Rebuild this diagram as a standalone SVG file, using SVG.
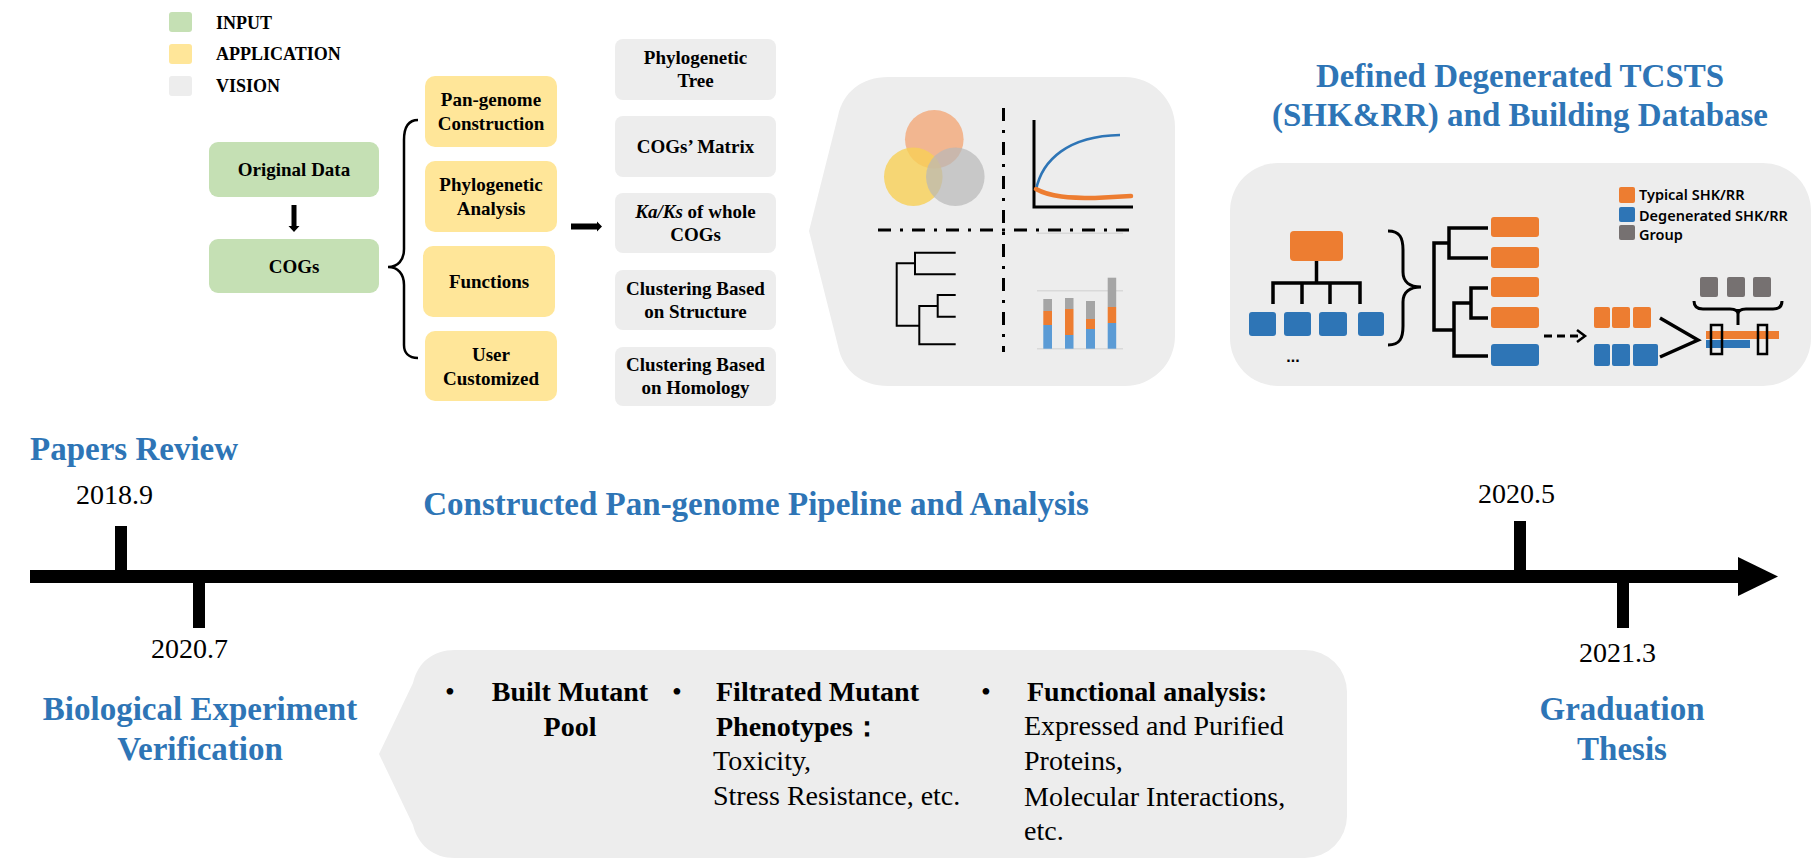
<svg xmlns="http://www.w3.org/2000/svg" width="1818" height="866" viewBox="0 0 1818 866">
<style>
.t{font-family:"Liberation Serif","Times New Roman",serif;fill:#000}
.b{font-weight:bold}
.box{font-family:"Liberation Serif","Times New Roman",serif;font-weight:bold;font-size:19px;text-anchor:middle;fill:#000}
.leg{font-family:"Liberation Serif","Times New Roman",serif;font-weight:bold;font-size:18px;fill:#000}
.head{font-family:"Liberation Serif","Times New Roman",serif;font-weight:bold;font-size:33px;fill:#2E75B6}
.date{font-family:"Liberation Serif","Times New Roman",serif;font-size:28px;fill:#000}
.body{font-family:"Liberation Serif","Times New Roman",serif;font-size:28px;fill:#000}
.in{fill:#C5E0B4}
.app{fill:#FFE699}
.vis{fill:#EDEDED}
.ln{fill:none;stroke:#000;stroke-linecap:butt}
.dd{fill:none;stroke:#000;stroke-width:3;stroke-dasharray:13 9 3 9}
.sans{font-family:"Noto Sans","Open Sans","Liberation Sans",sans-serif;font-weight:600;font-size:14.5px;fill:#000}
</style>
<rect width="1818" height="866" fill="#fff"/>

<g id="legend">
<rect x="169" y="12" width="23" height="20" rx="3" class="in"/>
<text x="216" y="29" class="leg">INPUT</text>
<rect x="169" y="44" width="23" height="20" rx="3" class="app"/>
<text x="216" y="60" class="leg">APPLICATION</text>
<rect x="169" y="76" width="23" height="20" rx="3" class="vis"/>
<text x="216" y="92" class="leg">VISION</text>
</g>

<g id="original-data"><rect x="209" y="142" width="170" height="55" rx="9" class="in"/><text x="294" y="176" class="box">Original Data</text></g>
<g id="cogs"><rect x="209" y="239" width="170" height="54" rx="9" class="in"/><text x="294" y="273" class="box">COGs</text></g>

<g id="pan-genome"><rect x="425" y="76" width="132" height="71" rx="10" class="app"/><text x="491" y="106" class="box">Pan-genome</text><text x="491" y="130" class="box">Construction</text></g>
<g id="phylo-analysis"><rect x="425" y="161" width="132" height="71" rx="10" class="app"/><text x="491" y="191" class="box">Phylogenetic</text><text x="491" y="215" class="box">Analysis</text></g>
<g id="functions"><rect x="423" y="246" width="132" height="71" rx="10" class="app"/><text x="489" y="288" class="box">Functions</text></g>
<g id="user-customized"><rect x="425" y="331" width="132" height="70" rx="10" class="app"/><text x="491" y="361" class="box">User</text><text x="491" y="385" class="box">Customized</text></g>

<g id="vis-tree"><rect x="615" y="39" width="161" height="61" rx="8" class="vis"/><text x="695.5" y="64" class="box">Phylogenetic</text><text x="695.5" y="87" class="box">Tree</text></g>
<g id="vis-matrix"><rect x="615" y="116" width="161" height="61" rx="8" class="vis"/><text x="695.5" y="153" class="box">COGs’ Matrix</text></g>
<g id="vis-kaks"><rect x="615" y="193" width="161" height="60" rx="8" class="vis"/><text x="695.5" y="218" class="box"><tspan font-style="italic">Ka/Ks</tspan> of whole</text><text x="695.5" y="241" class="box">COGs</text></g>
<g id="vis-structure"><rect x="615" y="270" width="161" height="60" rx="8" class="vis"/><text x="695.5" y="295" class="box">Clustering Based</text><text x="695.5" y="318" class="box">on Structure</text></g>
<g id="vis-homology"><rect x="615" y="347" width="161" height="59" rx="8" class="vis"/><text x="695.5" y="371" class="box">Clustering Based</text><text x="695.5" y="394" class="box">on Homology</text></g>

<g id="connectors">
<path d="M291.5 205 H296.5 V226 H299.5 L294 232 L288.5 226 H291.5 Z" fill="#000"/>
<path d="M571 223.5 H597 V221.5 L602 226.5 L597 231.5 V229.5 H571 Z" fill="#000"/>
<path d="M418 120 C408 120 404 127 404 140 V249 C404 260 398 267 388 267 C398 267 404 274 404 285 V345 C404 352 408 358 418 358" class="ln" stroke-width="2.5"/>
</g>

<g id="analysis-panel">
<path d="M888 77 H1125 A50 50 0 0 1 1175 127 V336 A50 50 0 0 1 1125 386 H888 C862 386 843 371 838 346 L809 231 L838 116 C843 92 862 77 888 77 Z" fill="#EDEDED"/>
<circle cx="934.3" cy="139.3" r="29.3" fill="#F2AF85" opacity="0.9"/>
<circle cx="913.3" cy="176.7" r="29.3" fill="#F7CF55" opacity="0.8"/>
<circle cx="955.3" cy="176.7" r="29.3" fill="#B8B8B8" opacity="0.7"/>
<path d="M1003.5 108 V352" class="dd"/>
<path d="M878 230 H1133" class="dd"/>
<path d="M1034 120 V207 H1133" class="ln" stroke-width="3"/>
<path d="M1036 190 C1042 160 1068 136 1120 135" fill="none" stroke="#2E75B6" stroke-width="2.5"/>
<path d="M1036 189 C1050 197 1070 198 1095 198 L1131 196" fill="none" stroke="#ED7D31" stroke-width="4.5" stroke-linecap="round"/>
<path d="M955.7 252.7 H915 V274.3 H955.7 M915 263.3 H896.7 V325.7 H919.3 M955.7 295 H937.7 V316.7 H955.7 M937.7 306 H919.3 V344.3 H955.7" class="ln" stroke-width="2"/>
<path d="M1037 233.3 H1123 M1037 290.7 H1123 M1037 348.7 H1123" stroke="#D9D9D9" stroke-width="1.5"/>
<rect x="1043.3" y="299" width="8.7" height="12" fill="#A5A5A5"/><rect x="1043.3" y="311" width="8.7" height="14" fill="#ED7D31"/><rect x="1043.3" y="325" width="8.7" height="23.7" fill="#5B9BD5"/>
<rect x="1065" y="298" width="8.5" height="11" fill="#A5A5A5"/><rect x="1065" y="309" width="8.5" height="26" fill="#ED7D31"/><rect x="1065" y="335" width="8.5" height="13.7" fill="#5B9BD5"/>
<rect x="1086" y="301" width="9" height="18" fill="#A5A5A5"/><rect x="1086" y="319" width="9" height="10" fill="#ED7D31"/><rect x="1086" y="329" width="9" height="19.7" fill="#5B9BD5"/>
<rect x="1107.7" y="277.7" width="8.5" height="29.3" fill="#A5A5A5"/><rect x="1107.7" y="307" width="8.5" height="16" fill="#ED7D31"/><rect x="1107.7" y="323" width="8.5" height="25.7" fill="#5B9BD5"/>
</g>

<g id="tcsts-title">
<text x="1520" y="87" class="head" text-anchor="middle">Defined Degenerated TCSTS</text>
<text x="1520" y="126" class="head" text-anchor="middle">(SHK&amp;RR) and Building Database</text>
</g>

<g id="tcsts-panel">
<rect x="1230" y="163" width="581" height="223" rx="48" fill="#EDEDED"/>
<rect x="1619" y="187" width="16" height="16" rx="2" fill="#ED7D31"/><text x="1639" y="200" class="sans">Typical SHK/RR</text>
<rect x="1619" y="207" width="16" height="15" rx="2" fill="#2E75B6"/><text x="1639" y="221" class="sans">Degenerated SHK/RR</text>
<rect x="1619" y="225" width="16" height="15" rx="2" fill="#767171"/><text x="1639" y="240" class="sans">Group</text>
<rect x="1290" y="231" width="53" height="30" rx="4" fill="#ED7D31"/>
<path d="M1316.5 261 V283 M1273 304 V283 H1360 V304 M1302 283 V304 M1330 283 V304" class="ln" stroke-width="3.5"/>
<rect x="1249" y="312" width="27" height="24" rx="3" fill="#2E75B6"/>
<rect x="1284" y="312" width="27" height="24" rx="3" fill="#2E75B6"/>
<rect x="1319" y="312" width="28" height="24" rx="3" fill="#2E75B6"/>
<rect x="1358" y="312" width="26" height="24" rx="3" fill="#2E75B6"/>
<text x="1293" y="362" font-family="Liberation Sans,sans-serif" font-weight="bold" font-size="16" text-anchor="middle">...</text>
<path d="M1388 231 C1400 231 1403 238 1403 250 V272 C1403 282 1410 287 1421 287 C1410 287 1403 292 1403 302 V326 C1403 338 1400 345 1388 345" class="ln" stroke-width="3"/>
<path d="M1488 228 H1449 V258 H1488 M1449 243 H1434 V330 H1454 M1488 288 H1471 V318 H1488 M1471 303 H1454 V356 H1488" class="ln" stroke-width="3.5"/>
<rect x="1491" y="217" width="48" height="20" rx="3" fill="#ED7D31"/>
<rect x="1491" y="247" width="48" height="21" rx="3" fill="#ED7D31"/>
<rect x="1491" y="277" width="48" height="20" rx="3" fill="#ED7D31"/>
<rect x="1491" y="307" width="48" height="21" rx="3" fill="#ED7D31"/>
<rect x="1491" y="344" width="48" height="22" rx="3" fill="#2E75B6"/>
<path d="M1544 336 H1580" class="ln" stroke-width="3" stroke-dasharray="8 5"/>
<path d="M1577 330 L1585 336 L1577 342" class="ln" stroke-width="2.5"/>
<rect x="1594" y="307" width="16" height="21" rx="2" fill="#ED7D31"/>
<rect x="1612" y="307" width="18" height="21" rx="2" fill="#ED7D31"/>
<rect x="1633" y="307" width="18" height="21" rx="2" fill="#ED7D31"/>
<rect x="1594" y="344" width="16" height="22" rx="2" fill="#2E75B6"/>
<rect x="1612" y="344" width="18" height="22" rx="2" fill="#2E75B6"/>
<rect x="1633" y="344" width="25" height="22" rx="2" fill="#2E75B6"/>
<path d="M1660 318 L1698 340 L1660 357" class="ln" stroke-width="3.5"/>
<rect x="1700" y="277" width="18" height="20" rx="2" fill="#767171"/>
<rect x="1727" y="277" width="18" height="20" rx="2" fill="#767171"/>
<rect x="1753" y="277" width="18" height="20" rx="2" fill="#767171"/>
<path d="M1694 301 C1694 306 1697 309 1703 309 H1730 C1735 309 1738 311 1738 314 C1738 311 1741 309 1746 309 H1773 C1779 309 1782 306 1782 301 M1738 309 V325" class="ln" stroke-width="3"/>
<rect x="1706" y="331" width="73" height="8" fill="#ED7D31"/>
<rect x="1706" y="340" width="44" height="8" fill="#2E75B6"/>
<rect x="1711" y="325" width="11" height="29" fill="none" stroke="#000" stroke-width="2.5"/>
<rect x="1758" y="325" width="9" height="29" fill="none" stroke="#000" stroke-width="2.5"/>
</g>

<g id="timeline">
<rect x="30" y="570" width="1710" height="13" fill="#000"/>
<path d="M1738 557 L1778 576.5 L1738 596 Z" fill="#000"/>
<rect x="115" y="526" width="12" height="45" fill="#000"/>
<rect x="193" y="582" width="12" height="46" fill="#000"/>
<rect x="1514" y="521" width="12" height="50" fill="#000"/>
<rect x="1617" y="582" width="12" height="46" fill="#000"/>
</g>

<g id="milestones">
<text x="30" y="460" class="head">Papers Review</text>
<text x="76" y="504" class="date">2018.9</text>
<text x="756" y="515" class="head" text-anchor="middle">Constructed Pan-genome Pipeline and Analysis</text>
<text x="1478" y="503" class="date">2020.5</text>
<text x="151" y="658" class="date">2020.7</text>
<text x="200" y="720" class="head" text-anchor="middle">Biological Experiment</text>
<text x="200" y="760" class="head" text-anchor="middle">Verification</text>
<text x="1579" y="662" class="date">2021.3</text>
<text x="1622" y="720" class="head" text-anchor="middle">Graduation</text>
<text x="1622" y="760" class="head" text-anchor="middle">Thesis</text>
</g>

<g id="experiment-panel">
<path d="M455 650 H1305 A42 42 0 0 1 1347 692 V816 A42 42 0 0 1 1305 858 H455 C433 858 418 845 413 825 L379 754 L413 683 C418 662 433 650 455 650 Z" fill="#EDEDED"/>
<text x="445" y="701" class="body">•</text>
<text x="570" y="701" class="body b" text-anchor="middle">Built Mutant</text>
<text x="570" y="736" class="body b" text-anchor="middle">Pool</text>
<text x="672" y="701" class="body">•</text>
<text x="716" y="701" class="body b">Filtrated Mutant</text>
<text x="716" y="736" class="body b">Phenotypes：</text>
<text x="713" y="770" class="body">Toxicity,</text>
<text x="713" y="805" class="body">Stress Resistance, etc.</text>
<text x="981" y="701" class="body">•</text>
<text x="1027" y="701" class="body b">Functional analysis:</text>
<text x="1024" y="735" class="body">Expressed and Purified</text>
<text x="1024" y="770" class="body">Proteins,</text>
<text x="1024" y="806" class="body">Molecular Interactions,</text>
<text x="1024" y="840" class="body">etc.</text>
</g>
</svg>
